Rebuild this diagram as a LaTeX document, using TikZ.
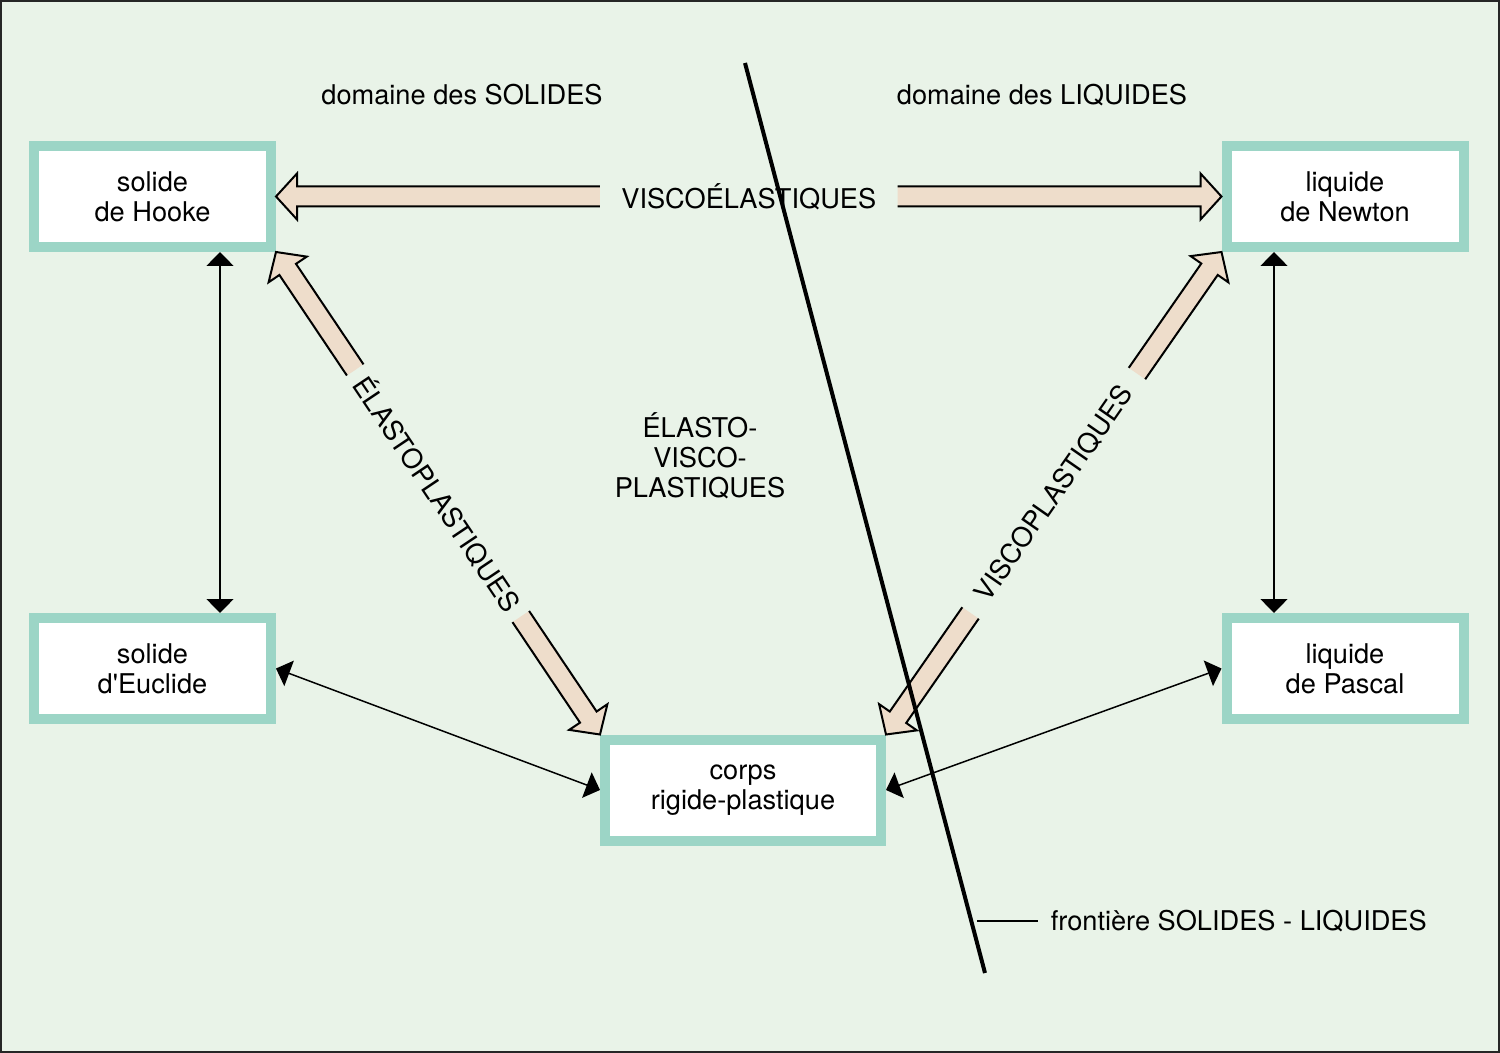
\documentclass[tikz,border=0pt]{standalone}
\usepackage{fontspec}
\setmainfont{TeX Gyre Heros}
\usetikzlibrary{arrows.meta, calc, positioning}
\definecolor{bg green}{HTML}{E9F3E8}
\definecolor{box teal}{HTML}{9CD5C6}
\definecolor{arrow beige}{HTML}{EEDDCB}
\tikzset{
      body box/.style={
		draw=box teal,
		fill=white,
		line width=5pt, % thick teal frame
		minimum width={#1},
		minimum height={50.5pt},
		align=center,
	  },
	  body box/.default=118.5pt,
	  thin arrow/.style={
		{Triangle[length=7pt,width=13.5pt]}-{Triangle[length=7pt,width=13.5pt]},
		line width=0.75pt,
	  },
	  fat outline/.style={
		line width=1pt,
		line join=miter,
	  },
  	}
% big hollow arrow, open at the label end
\newcommand{\fatarrow}[2]{% #1 = open end, #2 = tip
  \coordinate (hb) at ($(#2)!10.5pt!(#1)$);
  \fill [arrow beige] ($(#1)!5pt!90:(#2)$) -- ($(hb)!5pt!-90:(#1)$) -- ($(hb)!11.5pt!-90:(#1)$) -- (#2)
    -- ($(hb)!11.5pt!90:(#1)$) -- ($(hb)!5pt!90:(#1)$) -- ($(#1)!5pt!-90:(#2)$) -- cycle;
  \draw [fat outline] ($(#1)!5pt!90:(#2)$) -- ($(hb)!5pt!-90:(#1)$) -- ($(hb)!11.5pt!-90:(#1)$) -- (#2)
    -- ($(hb)!11.5pt!90:(#1)$) -- ($(hb)!5pt!90:(#1)$) -- ($(#1)!5pt!-90:(#2)$);
}
\begin{document}
\begin{tikzpicture}[x=0.5pt, y=-0.5pt, font=\fontsize{13.6}{15}\selectfont]
    \useasboundingbox (0,0) rectangle (1500,1053);
    \draw [line width=1.4pt, draw=black!85, fill=bg green] (1,1) rectangle (1499,1052);
    % the five bodies
    \node [body box] (hooke) at (152.5,196.5) {solide\\de Hooke};
    \node [body box] (newton) at (1345,196.5) {liquide\\de Newton};
    \node [body box] (euclide) at (152.5,668.5) {solide\\d\textquotesingle Euclide};
    \node [body box] (pascal) at (1345,668.5) {liquide\\de Pascal};
    \node [body box=138pt] (corps) at (743,790) {corps\\rigide-plastique};
    % labels
    \node (solides) at (462,95) {domaine des SOLIDES};
    \node (liquides) at (1042,95) {domaine des LIQUIDES};
    \node [align=center] (evp) at (700,456) {ÉLASTO-\\VISCO-\\PLASTIQUES};
    \path (hooke.east) -- node [inner xsep=10.5pt] (ve) {VISCOÉLASTIQUES} (newton.west);
    \path (hooke.south east) -- node [sloped, inner xsep=5pt] (ep) {ÉLASTOPLASTIQUES} (corps.north west);
    \path (corps.north east) -- node [sloped, inner xsep=9pt] (vp) {VISCOPLASTIQUES} (newton.south west);
    % hollow arrows
    \fatarrow{ve.west}{hooke.east}
    \fatarrow{ve.east}{newton.west}
    \fatarrow{ep.west}{hooke.south east}
    \fatarrow{ep.east}{corps.north west}
    \fatarrow{vp.west}{corps.north east}
    \fatarrow{vp.east}{newton.south west}
    % thin arrows
    \draw [thin arrow] ($(hooke.south)+(67.5,0)$) -- ($(euclide.north)+(67.5,0)$);
    \draw [thin arrow] ($(newton.south)+(-71,0)$) -- ($(pascal.north)+(-71,0)$);
    \draw [thin arrow] (euclide.east) -- (corps.west);
    \draw [thin arrow] (pascal.west) -- (corps.east);
    % frontier
    \coordinate (ftop) at (745,63);
    \coordinate (fbot) at (985,973);
    \draw [line width=2pt] (ftop) -- (fbot);
    \coordinate (fl) at (977,921);
    \draw [line width=0.75pt] (fl) -- ++(61,0) node [right, inner sep=6pt] (flab) {frontière SOLIDES - LIQUIDES};
  \end{tikzpicture}
\end{document}
